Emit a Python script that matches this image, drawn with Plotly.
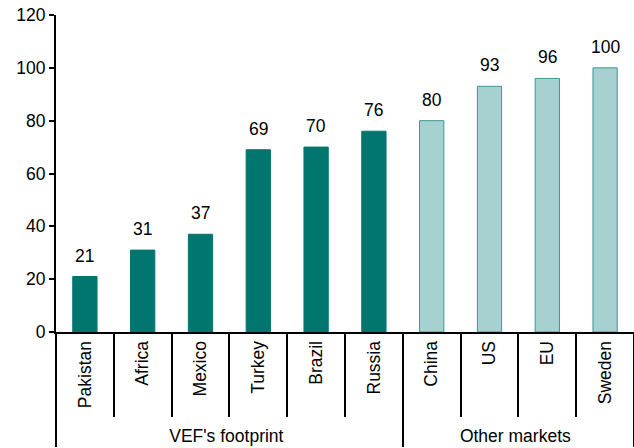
import plotly.graph_objects as go

categories = ["Pakistan", "Africa", "Mexico", "Turkey", "Brazil", "Russia",
              "China", "US", "EU", "Sweden"]
groups = ["VEF's footprint"] * 6 + ["Other markets"] * 4
values = [21, 31, 37, 69, 70, 76, 80, 93, 96, 100]
y_ticks = [0, 20, 40, 60, 80, 100, 120]

dark = "#00766F"
light = "#A7D0D0"
colors = [dark if g == "VEF's footprint" else light for g in groups]
edges = [dark if g == "VEF's footprint" else "#3E9696" for g in groups]

font = "Arial, Liberation Sans, sans-serif"
fs = 17.5

fig = go.Figure(go.Bar(
    x=[groups, categories],
    y=values,
    marker=dict(color=colors, line=dict(color=edges, width=1)),
    hoverinfo="x+y",
))

for i, v in enumerate(values):
    fig.add_annotation(
        x=i, y=v, xref="x", yref="y",
        text=str(v), showarrow=False,
        yanchor="bottom", yshift=9,
        font=dict(size=17.5, color="black", family=font),
    )

fig.update_layout(
    width=634, height=448,
    margin=dict(l=56, r=0, t=15, b=116),
    paper_bgcolor="white", plot_bgcolor="white",
    bargap=0.58,
    showlegend=False,
    font=dict(family=font, size=fs, color="black"),
)
fig.update_xaxes(
    type="multicategory",
    showline=True, linecolor="black", linewidth=2,
    ticks="outside", tickson="boundaries", ticklen=83, tickwidth=2, tickcolor="black",
    tickangle=-90,
    tickfont=dict(size=fs, family=font, color="black"),
    showdividers=True, dividercolor="black", dividerwidth=2,
    automargin=False,
)
fig.update_yaxes(
    range=[0, 120], tickvals=y_ticks,
    showline=True, linecolor="black", linewidth=2,
    ticks="outside", ticklen=5, tickwidth=2, tickcolor="black",
    showgrid=False, zeroline=False,
    tickfont=dict(size=17.5, family=font, color="black"),
    automargin=False,
)

fig.write_html(
    "out.html",
    config={"displayModeBar": False},
    post_script="document.body.style.margin='0';document.body.style.overflow='hidden';",
)
